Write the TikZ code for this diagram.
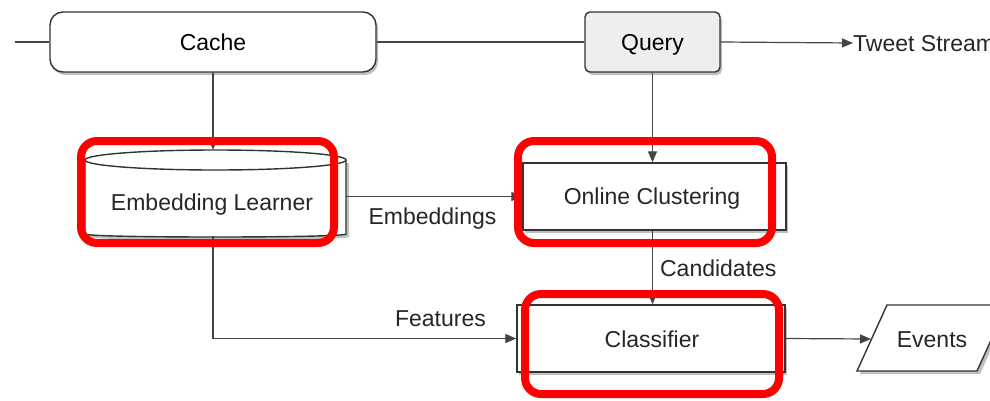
\documentclass[tikz,border=0pt]{standalone}
\usepackage{fontspec}
\setmainfont{Liberation Sans}
\usetikzlibrary{arrows.meta,shadows,calc}

\definecolor{edgegray}{HTML}{333333}
\definecolor{linegray}{HTML}{444444}
\definecolor{querygray}{HTML}{EEEEEF}
\definecolor{hlred}{HTML}{FF0000}

\tikzset{
  boxshadow/.style={drop shadow={shadow xshift=2pt, shadow yshift=-3pt, opacity=0.35, fill=black!70}},
  block/.style={draw=edgegray, line width=1.4pt, fill=white, inner sep=0pt, text height=17pt, text depth=0pt, boxshadow},
  flow/.style={draw=linegray, line width=1.2pt},
  flowarrow/.style={flow, -{Triangle[length=11pt,width=9pt]}},
  lbl/.style={inner sep=0pt, text=black!85, text height=17pt, text depth=0pt},
  highlight/.style={draw=hlred, line width=8pt, rounded corners=16pt},
}

\begin{document}
\begin{tikzpicture}[x=1pt, y=-1pt, font=\fontsize{23}{27}\selectfont]
\useasboundingbox (0,0) rectangle (990,400);
\fill[white] (0,0) rectangle (990,400);

% top row: cache and query
\node[block, rounded corners=13pt, minimum width=326pt, minimum height=60pt] (cache) at (213,42) {Cache};
\node[block, fill=querygray, rounded corners=5pt, minimum width=135pt, minimum height=60pt] (query) at (652.5,42) {Query};
\coordinate (feed) at (15,42);
\node[lbl, anchor=west] (tweets) at (853,43) {Tweet Stream};

% embedding learner drawn as a cylinder
\fill[black!70, opacity=0.35] (88,163) -- (88,237) .. controls (88,241) and (349,241) .. (349,237) -- (349,163) -- cycle;
\path[fill=white, draw=edgegray, line width=1.4pt]
  (85,160) -- (85,234) .. controls (85,238) and (346,238) .. (346,234) -- (346,160);
\draw[fill=white, draw=edgegray, line width=1.4pt] (215.5,160) ellipse [x radius=130.5, y radius=10];
\node[minimum width=261pt, minimum height=86pt, inner sep=0pt] (el) at (215.5,193) {};
\node[lbl] (eltext) at (212,202) {Embedding Learner};

% processing blocks
\node[block, minimum width=263pt, minimum height=67pt] (oc) at (654.5,196.5) {};
\node[lbl] (octext) at (652,196) {Online Clustering};
\node[block, minimum width=268pt, minimum height=67pt] (cls) at (651,338.5) {};
\node[lbl] (clstext) at (652,339) {Classifier};

% output parallelogram
\fill[black!70, opacity=0.35] (890,308) -- (1010,308) -- (980,374) -- (860,374) -- cycle;
\draw[fill=white, draw=edgegray, line width=1.4pt] (887,305) -- (1007,305) -- (977,371) -- (857,371) -- cycle;
\node[lbl] (ev) at (932,339) {Events};
\coordinate (evin) at (871,339);

% connectors
\draw[flow] (feed) -- (cache.west);
\draw[flow] (cache.east) -- (query.west);
\draw[flowarrow] (query.east) -- (tweets.west);
\draw[flowarrow] (cache.south) -- (cache.south |- el.north);
\draw[flowarrow] (el.east |- oc.west) -- (oc.west)
  node[lbl, pos=0.49, below=10pt] (embl) {Embeddings};
\draw[flowarrow] (query.south) -- (query.south |- oc.north);
\draw[flowarrow] (oc.south -| query.south) -- (query.south |- cls.north)
  node[lbl, pos=0.5, right=7pt] (candl) {Candidates};
\draw[flowarrow] (cache.south |- el.south) -- (cache.south |- cls.west) -- (cls.west)
  node[lbl, pos=0.75, above=11pt] (featl) {Features};
\draw[flowarrow] (cls.east) -- (evin);

% red highlight frames
\draw[highlight] (81,141) rectangle (334,243);
\draw[highlight] (518,141) rectangle (772,243);
\draw[highlight] (525,294) rectangle (779,394);
\end{tikzpicture}
\end{document}
